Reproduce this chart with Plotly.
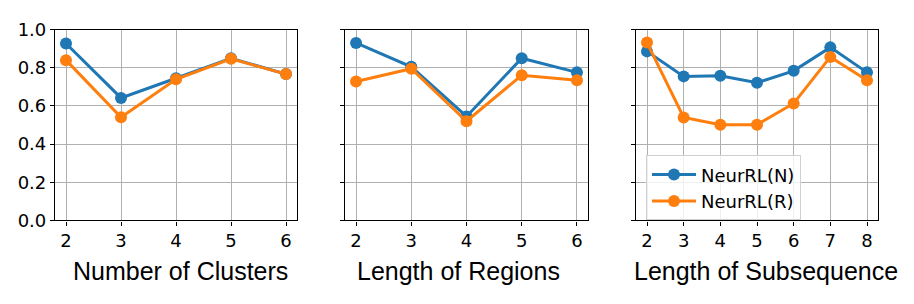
import plotly.graph_objects as go

clusters_x = [2, 3, 4, 5, 6]
clusters_n = [0.927, 0.642, 0.745, 0.850, 0.767]
clusters_r = [0.840, 0.541, 0.740, 0.847, 0.767]

regions_x = [2, 3, 4, 5, 6]
regions_n = [0.930, 0.805, 0.545, 0.850, 0.776]
regions_r = [0.728, 0.795, 0.520, 0.761, 0.735]

subseq_x = [2, 3, 4, 5, 6, 7, 8]
subseq_n = [0.886, 0.755, 0.758, 0.722, 0.784, 0.907, 0.776]
subseq_r = [0.932, 0.540, 0.502, 0.502, 0.613, 0.857, 0.735]

titles = ["Number of Clusters", "Length of Regions", "Length of Subsequence"]
series_names = ["NeurRL(N)", "NeurRL(R)"]
blue = "#1f77b4"
orange = "#ff7f0e"

W, H = 914, 304
panels_px = [(55, 297), (345, 588), (636, 878)]
title_cx = [180, 459, 766]
top_px, bot_px = 20, 225
ydom = [1 - bot_px / H, 1 - top_px / H]

fig = go.Figure()
data = [(clusters_x, clusters_n, clusters_r, [1.8, 6.2]),
        (regions_x, regions_n, regions_r, [1.8, 6.2]),
        (subseq_x, subseq_n, subseq_r, [1.7, 8.3])]

tick_font = dict(family="DejaVu Sans", size=18, color="black")
for i, (xs, yn, yr, xr) in enumerate(data):
    k = "" if i == 0 else str(i + 1)
    for ys, col, name in [(yn, blue, series_names[0]), (yr, orange, series_names[1])]:
        fig.add_trace(go.Scatter(
            x=xs, y=ys, mode="lines+markers", name=name,
            line=dict(color=col, width=3),
            marker=dict(color=col, size=12),
            xaxis="x" + k, yaxis="y" + k,
            showlegend=(i == 2),
        ))
    l, r = panels_px[i]
    axx = dict(domain=[l / W, r / W], range=xr, anchor="y" + k,
               tickvals=xs, showgrid=True, gridcolor="#b0b0b0", gridwidth=1,
               showline=True, linecolor="black", linewidth=1.2, mirror=True,
               ticks="outside", ticklen=4, tickcolor="black", tickfont=tick_font,
               zeroline=False)
    axy = dict(domain=ydom, range=[0, 1.0], anchor="x" + k,
               tickvals=[0, 0.2, 0.4, 0.6, 0.8, 1.0],
               ticktext=["0.0", "0.2", "0.4", "0.6", "0.8", "1.0"],
               showticklabels=(i == 0),
               showgrid=True, gridcolor="#b0b0b0", gridwidth=1,
               showline=True, linecolor="black", linewidth=1.2, mirror=True,
               ticks="outside", ticklen=4, tickcolor="black", tickfont=tick_font,
               zeroline=False)
    fig.layout["xaxis" + k] = axx
    fig.layout["yaxis" + k] = axy
    fig.add_annotation(text=titles[i], xref="paper", yref="paper",
                       x=title_cx[i] / W, y=1 - 279 / H,
                       xanchor="center", yanchor="middle", showarrow=False,
                       font=dict(family="Liberation Sans", size=25, color="black"))

fig.update_layout(
    width=W, height=H, margin=dict(l=0, r=0, t=0, b=0),
    paper_bgcolor="white", plot_bgcolor="white",
    legend=dict(x=646 / W, y=1 - 155 / H, xanchor="left", yanchor="top",
                bgcolor="rgba(255,255,255,0.8)", bordercolor="#d0d0d0", borderwidth=1,
                font=dict(family="DejaVu Sans", size=18, color="black"),
                tracegroupgap=0, itemwidth=44),
)

fig.write_html("out.html")
